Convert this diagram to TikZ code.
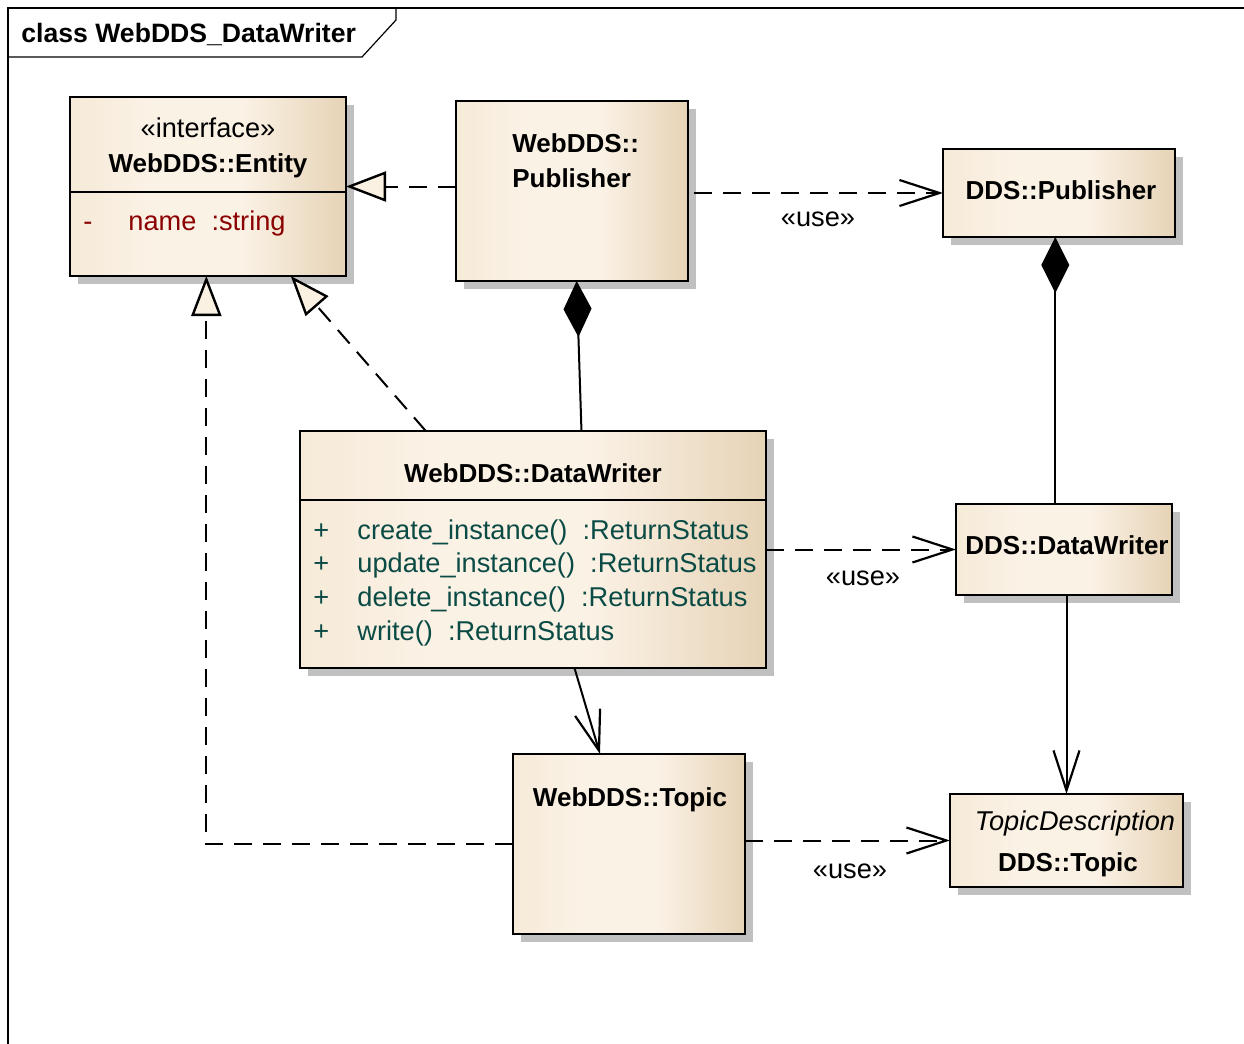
\documentclass[tikz,border=0pt]{standalone}
\usepackage{fontspec}
\setmainfont{Liberation Sans}
\usetikzlibrary{arrows.meta,shadows,calc}

\definecolor{boxleft}{HTML}{F6EAD8}
\definecolor{boxmid}{HTML}{FBF2E6}
\definecolor{boxright}{HTML}{E6D3B6}
\definecolor{boxfill}{HTML}{FBF1E3}
\definecolor{shadowgray}{HTML}{C0C0C0}
\definecolor{attrred}{HTML}{8B0000}
\definecolor{opteal}{HTML}{0B4B45}

\pgfdeclarehorizontalshading{classshade}{100bp}{color(0bp)=(boxleft); color(25bp)=(boxleft); color(40bp)=(boxmid); color(56bp)=(boxmid); color(75bp)=(boxright); color(100bp)=(boxright)}

\newcommand\clsfont{\fontsize{13}{17}\selectfont\bfseries}
\newcommand\txtfont{\fontsize{13.6}{17}\selectfont}

\begin{document}
\begin{tikzpicture}[x=0.5pt,y=-0.5pt,
    classbox/.style={draw, line width=1.3pt, shade, shading=classshade,
      drop shadow={shadow xshift=4pt, shadow yshift=-4pt, opacity=1, fill=shadowgray},
      inner sep=0pt, outer sep=0pt},
    cls/.style={inner sep=0pt, anchor=base, font=\clsfont},
    txt/.style={inner sep=0pt, anchor=base, font=\txtfont},
    realize/.style={line width=1pt, dash pattern=on 9pt off 5.5pt,
      -{Triangle[open, fill=boxfill, length=20pt, width=15pt, line width=1.2pt]}},
    use/.style={line width=1pt, dash pattern=on 9pt off 5.5pt,
      -{Straight Barb[length=20pt, width=13pt, line width=1.1pt]}},
    assoc/.style={line width=1pt, -{Straight Barb[length=20pt, width=13pt, line width=1.1pt]}},
    compose/.style={line width=1pt, -{Diamond[length=28pt, width=14pt]}}]
  \useasboundingbox (0,0) rectangle (1244,1044);
  % frame
  \draw[line width=0.6pt] (8,1060) -- (8,8) -- (1260,8);
  \draw[line width=0.6pt] (8,57) -- (362,57) -- (396,20) -- (396,8);
  \node[cls, anchor=base west, font=\fontsize{13.3}{17}\selectfont\bfseries] (frametitle) at (21,42) {class WebDDS\_DataWriter};

  % classes
  \node[classbox, minimum width=138pt, minimum height=89.5pt] (entity) at (208,186.5) {};
  \node[classbox, minimum width=116pt, minimum height=90pt] (webpub) at (572,191) {};
  \node[classbox, minimum width=116pt, minimum height=44pt] (ddspub) at (1059,193) {};
  \node[classbox, minimum width=233pt, minimum height=118.5pt] (webdw) at (533,549.5) {};
  \node[classbox, minimum width=108pt, minimum height=45.5pt] (ddsdw) at (1064,549.5) {};
  \node[classbox, minimum width=116pt, minimum height=90pt] (webtopic) at (629,844) {};
  \node[classbox, minimum width=116.5pt, minimum height=46.5pt] (ddstopic) at (1066.5,840.5) {};

  % compartments
  \draw[line width=1.3pt] (entity.west |- 0,192) -- (entity.east |- 0,192);
  \draw[line width=1.3pt] (webdw.west |- 0,500) -- (webdw.east |- 0,500);

  % class texts
  \node[txt] (entitystereo) at (208,137) {«interface»};
  \node[cls] (entityname) at (208,172) {WebDDS::Entity};
  \node[txt, anchor=base west, text=attrred] (entityvis) at (83,230) {-};
  \node[txt, anchor=base west, text=attrred] (entityattr) at (128,230) {name\ \ :string};
  \node[cls, anchor=base west] (webpubname) at (512,152) {WebDDS::};
  \node[cls, anchor=base west] (webpubname2) at (512,187) {Publisher};
  \node[cls] (ddspubname) at (1061,199) {DDS::Publisher};
  \node[cls] (webdwname) at (533,482) {WebDDS::DataWriter};
  \foreach \y/\op [count=\i] in {539/create\_instance()\ \ :ReturnStatus,
      572.5/update\_instance()\ \ :ReturnStatus,
      606/delete\_instance()\ \ :ReturnStatus,
      640/write()\ \ :ReturnStatus} {
    \node[txt, anchor=base west, text=opteal] (opvis\i) at (313,\y) {+};
    \node[txt, anchor=base west, text=opteal] (op\i) at (357,\y) {\op};
  }
  \node[cls] (ddsdwname) at (1067,554) {DDS::DataWriter};
  \node[cls] (webtopicname) at (630,806) {WebDDS::Topic};
  \node[txt, font=\txtfont\itshape] (ddstopicstereo) at (1075,830) {TopicDescription};
  \node[cls] (ddstopicname) at (1068,871) {DDS::Topic};

  % realizations
  \draw[realize] (webpub.west |- entity.east) -- (entity.east);
  \draw[realize] ($(webdw.north west)!0.27!(webdw.north east)$)
    -- ($(entity.south west)!0.8!(entity.south east)$);
  \draw[realize] (webtopic.west) -| ($(entity.south west)!0.494!(entity.south east)$);

  % usages
  \draw[use] ([xshift=3pt]webpub.east |- ddspub.west) -- (ddspub.west);
  \draw[use] (webdw.east) -- (ddsdw.west);
  \draw[use] (webtopic.east |- ddstopic.west) -- (ddstopic.west);
  \node[txt] (use1) at (818,226) {«use»};
  \node[txt] (use2) at (863,585) {«use»};
  \node[txt] (use3) at (850,878) {«use»};

  % compositions
  \coordinate (dwtop) at ($(webdw.north west)!0.604!(webdw.north east)$);
  \draw[compose] (dwtop) -- ($(webpub.south west)!0.52!(webpub.south east)$);
  \coordinate (ddsdwtop) at ($(ddsdw.north west)!0.46!(ddsdw.north east)$);
  \draw[compose] (ddsdwtop) -- (ddsdwtop |- ddspub.south);

  % associations
  \draw[assoc] ($(webdw.south west)!0.589!(webdw.south east)$)
    -- ($(webtopic.north west)!0.375!(webtopic.north east)$);
  \draw[assoc] (ddsdw.south -| ddstopic.north) -- (ddstopic.north);
\end{tikzpicture}
\end{document}
